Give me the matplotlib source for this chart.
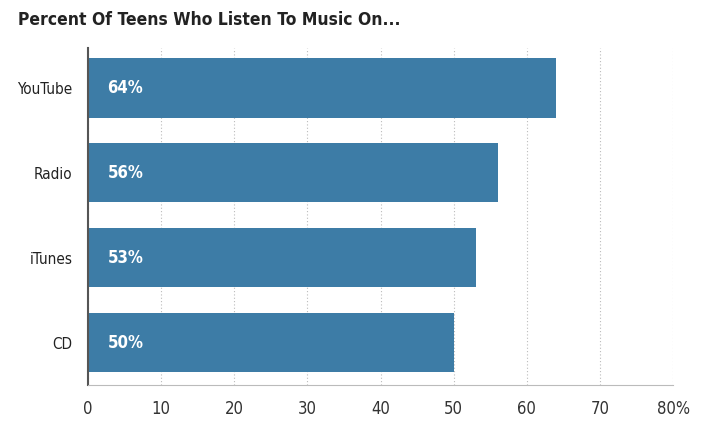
import matplotlib.pyplot as plt

plt.rcParams['font.family'] = ['DejaVu Sans']
plt.rcParams['font.stretch'] = 'condensed'

categories = ['YouTube', 'Radio', 'iTunes', 'CD']
values = [64, 56, 53, 50]
xticks = [0, 10, 20, 30, 40, 50, 60, 70, 80]
xticklabels = ['0', '10', '20', '30', '40', '50', '60', '70', '80%']

fig = plt.figure(figsize=(7.2, 4.36), dpi=100)
ax = fig.add_axes([0.122, 0.117, 0.813, 0.773])

ypos = list(range(len(categories)))
ax.barh(ypos, values, height=0.7, color='#3d7ca6', zorder=2)
for y, v in zip(ypos, values):
    ax.text(2.7, y, f'{v}%', color='white', fontsize=12, fontweight='bold',
            va='center', ha='left', zorder=3)

ax.set_ylim(3.5, -0.47)
ax.set_xlim(0, 80)
ax.set_yticks(ypos)
ax.set_yticklabels(categories, fontsize=11, color='#222222')
ax.set_xticks(xticks)
ax.set_xticklabels(xticklabels, fontsize=12, color='#333333')
ax.tick_params(length=0)
ax.tick_params(axis='x', pad=11)
ax.tick_params(axis='y', pad=11)

ax.grid(axis='x', color='#bbbbbb', linestyle=(0, (1, 2)), linewidth=0.8, zorder=0)
ax.grid(axis='y', visible=False)
for s in ['top', 'right']:
    ax.spines[s].set_visible(False)
ax.spines['left'].set_color('#555555')
ax.spines['left'].set_linewidth(1.5)
ax.spines['bottom'].set_color('#bbbbbb')

fig.text(0.025, 0.955, 'Percent Of Teens Who Listen To Music On...', fontsize=12.5,
         fontweight='bold', color='#222222', va='center', ha='left')

fig.savefig('out.png', dpi=100)
